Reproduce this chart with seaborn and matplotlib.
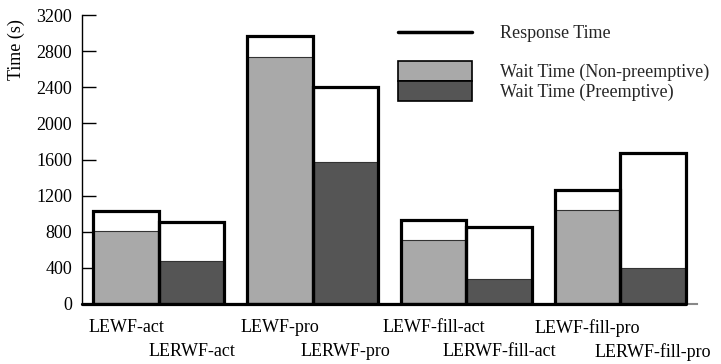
import pandas as pd
import seaborn as sns
import matplotlib.pyplot as plt
from matplotlib.lines import Line2D
from matplotlib.patches import Patch

# 数据（从图上读出来的）
groups = ["act", "pro", "fill-act", "fill-pro"]
variants = ["LEWF", "LERWF"]
response_time = [1030, 910, 2970, 2400, 930, 855, 1260, 1675]
wait_time = [810, 480, 2740, 1570, 710, 280, 1040, 400]
tick_labels = ["LEWF-act", "LERWF-act", "LEWF-pro", "LERWF-pro",
               "LEWF-fill-act", "LERWF-fill-act", "LEWF-fill-pro", "LERWF-fill-pro"]
yticks = [0, 400, 800, 1200, 1600, 2000, 2400, 2800, 3200]

rows = []
i = 0
for g in groups:
    for v in variants:
        rows.append({"group": g, "variant": v, "response": response_time[i], "wait": wait_time[i]})
        i += 1
df = pd.DataFrame(rows)

sns.set_theme(style="white")
plt.rcParams['font.family'] = ['Liberation Serif', 'DejaVu Serif']

fig = plt.figure(figsize=(7.21, 3.64), dpi=100)
ax = fig.add_axes([82 / 721, 60 / 364, 615 / 721, 289 / 364])

wait_colors = {"LEWF": "#a9a9a9", "LERWF": "#555555"}

# 等待时间（灰色柱）
sns.barplot(data=df, x="group", y="wait", hue="variant", order=groups, hue_order=variants,
            palette=wait_colors, width=0.852, gap=0, edgecolor="#333333", linewidth=0.8,
            saturation=1, legend=False, ax=ax, zorder=2)
n_wait = len(ax.patches)

# 响应时间（黑框）
sns.barplot(data=df, x="group", y="response", hue="variant", order=groups, hue_order=variants,
            palette={"LEWF": "white", "LERWF": "white"}, width=0.852, gap=0,
            edgecolor="black", linewidth=2.3, saturation=1, legend=False, ax=ax, zorder=3)
resp_patches = ax.patches[n_wait:]
for p in resp_patches:
    p.set_facecolor("none")

ax.set_xlim(-0.5, 3.5)
ax.set_ylim(0, 3200)

# 底部黑线
last_right = max(p.get_x() + p.get_width() for p in resp_patches)
ax.plot([-0.5, last_right], [0, 0], color="black", lw=2.3, zorder=4, clip_on=False)

# x轴标签，上下交错
centers = sorted(p.get_x() + p.get_width() / 2 for p in resp_patches)
ax.set_xticks(centers)
ax.set_xticklabels(tick_labels)
ax.tick_params(axis="x", length=0, labelsize=13, labelcolor="black")
for k, tick in enumerate(ax.xaxis.get_major_ticks()):
    tick.set_pad(11 if k % 2 == 0 else 28)

ax.set_yticks(yticks)
ax.tick_params(axis="y", direction="in", length=10, width=1, color="black",
               pad=7, labelsize=13, labelcolor="black", left=True)

ax.set_xlabel("")
ax.set_ylabel("Time (s)", fontsize=13, color="black")
ax.yaxis.set_label_coords(-0.093, 0.882)

for s in ["top", "right"]:
    ax.spines[s].set_visible(False)
ax.spines["left"].set_color("black")
ax.spines["left"].set_linewidth(1)
ax.spines["bottom"].set_color("#888888")
ax.spines["bottom"].set_linewidth(1.5)

# 图例
leg1 = ax.legend(handles=[Line2D([0], [0], color="black", lw=2.5)], labels=["Response Time"],
                 loc="center left", bbox_to_anchor=(398 / 721, 1 - 34 / 364),
                 bbox_transform=fig.transFigure, frameon=False, fontsize=13,
                 handlelength=4.1, handletextpad=1.55, borderpad=0, borderaxespad=0)
ax.add_artist(leg1)
ax.legend(handles=[Patch(facecolor="#a9a9a9", edgecolor="black", linewidth=1.2),
                   Patch(facecolor="#555555", edgecolor="black", linewidth=1.2)],
          labels=["Wait Time (Non-preemptive)", "Wait Time (Preemptive)"],
          loc="center left", bbox_to_anchor=(398 / 721, 1 - 81 / 364),
          bbox_transform=fig.transFigure, frameon=False, fontsize=13,
          handlelength=4.1, handleheight=1.33, handletextpad=1.55, labelspacing=0,
          borderpad=0, borderaxespad=0)

plt.savefig("out.png", dpi=100)
